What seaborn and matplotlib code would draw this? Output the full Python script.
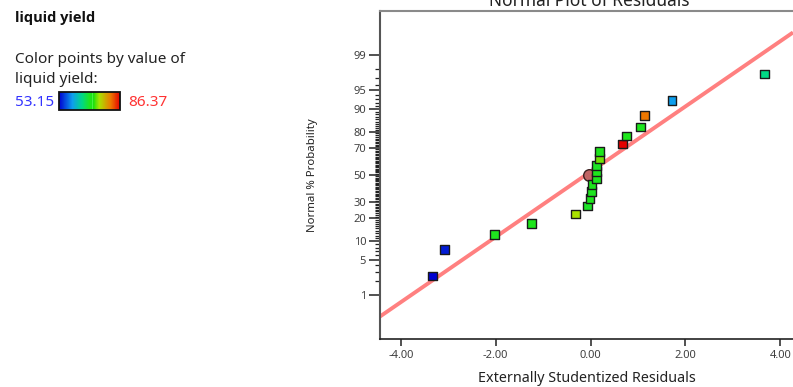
import numpy as np
import matplotlib
matplotlib.use("Agg")
import matplotlib.pyplot as plt
import seaborn as sns
from statistics import NormalDist
from matplotlib.colors import LinearSegmentedColormap, Normalize
from matplotlib.cm import ScalarMappable
from matplotlib.ticker import FixedLocator, FixedFormatter

# ---- data -------------------------------------------------------------
residuals = [-3.33, -3.08, -2.02, -1.25, -0.32, -0.06, -0.01, 0.02, 0.035, 0.12,
             0.12, 0.12, 0.19, 0.19, 0.68, 0.76, 1.05, 1.14, 1.72, 3.67]
normal_prob = [2.5, 7.5, 12.5, 17.5, 22.5, 27.5, 32.5, 37.5, 42.5, 47.5,
               52.5, 57.5, 62.5, 67.5, 72.5, 77.5, 82.5, 87.5, 92.5, 97.5]
liquid_yield = [53.15, 54.5, 69.8, 70.2, 75.1, 69.5, 70.0, 69.7, 70.3, 69.9,
                70.1, 69.6, 73.8, 70.0, 86.37, 70.4, 69.9, 81.4, 60.5, 65.8]

center_resid = [-0.035]
center_prob = [50.0]

yield_min, yield_max = 53.15, 86.37

# reference line in normal-score units: z = intercept + slope * residual
fit_intercept = 0.064
fit_slope = 0.632

prob_major = [1, 5, 10, 20, 30, 50, 70, 80, 90, 95, 99]
prob_minor = [p for p in range(1, 100) if p not in prob_major]
x_ticks = [-4, -2, 0, 2, 4]
x_tick_labels = ["-4.00", "-2.00", "0.00", "2.00", "4.00"]

# ---- normal probability scale -----------------------------------------
_nd = NormalDist()


def p_to_z(p):
    p = np.clip(np.asarray(p, dtype=float), 1e-7, 100 - 1e-7) / 100.0
    if p.size == 0:
        return p
    return np.vectorize(_nd.inv_cdf, otypes=[float])(p)


def z_to_p(z):
    z = np.asarray(z, dtype=float)
    if z.size == 0:
        return z
    return np.vectorize(_nd.cdf, otypes=[float])(z) * 100.0


yield_cmap = LinearSegmentedColormap.from_list(
    "yield",
    [(0.00, (0.00, 0.00, 0.82)),
     (0.22, (0.05, 0.62, 0.93)),
     (0.38, (0.00, 0.85, 0.52)),
     (0.50, (0.12, 0.90, 0.12)),
     (0.545, (0.10, 0.90, 0.08)),
     (0.555, (0.55, 1.00, 0.55)),
     (0.565, (0.10, 0.88, 0.05)),
     (0.66, (0.66, 0.89, 0.00)),
     (0.85, (0.93, 0.47, 0.00)),
     (1.00, (0.90, 0.00, 0.00))])
yield_norm = Normalize(yield_min, yield_max)

# ---- figure -----------------------------------------------------------
sns.set_style("white")
plt.rcParams["font.family"] = ["Noto Sans", "DejaVu Sans"]

W, H = 793, 387
fig = plt.figure(figsize=(W / 100, H / 100), dpi=100)

ax_left, ax_top, ax_bottom = 380, 11, 339
ax = fig.add_axes([ax_left / W, 1 - ax_bottom / H, 1 - ax_left / W, (ax_bottom - ax_top) / H])

ax.set_yscale("function", functions=(p_to_z, z_to_p))
ax.set_xlim(-4.44, 4.27)
ax.set_ylim(0.0741, 99.926)

# reference line (straight on screen under the probability scale)
ax.axline((-3.0, float(z_to_p(fit_intercept + fit_slope * -3.0))),
          (3.0, float(z_to_p(fit_intercept + fit_slope * 3.0))),
          color="#ff8080", lw=2.8, zorder=1, solid_capstyle="butt")

# center point marker
ax.scatter(center_resid, center_prob, s=70, marker="o", color="#c06464",
           edgecolor="#3a2020", linewidth=1.0, zorder=2)

sns.scatterplot(x=residuals, y=normal_prob, hue=liquid_yield, palette=yield_cmap,
                hue_norm=yield_norm, marker="s", s=38, edgecolor="#1a1a1a",
                linewidth=1.0, legend=False, ax=ax, zorder=3)

# ticks
ax.yaxis.set_major_locator(FixedLocator(prob_major))
ax.yaxis.set_major_formatter(FixedFormatter([str(p) for p in prob_major]))
ax.yaxis.set_minor_locator(FixedLocator(prob_minor))
ax.xaxis.set_major_locator(FixedLocator(x_ticks))
ax.xaxis.set_major_formatter(FixedFormatter(x_tick_labels))
ax.xaxis.set_minor_locator(FixedLocator([]))

ax.tick_params(axis="y", which="major", direction="out", length=8, width=1.1,
               color="#222222", labelsize=8, labelcolor="#404040", pad=2, left=True)
ax.tick_params(axis="y", which="minor", direction="out", length=3.5, width=0.9,
               color="#222222", left=True)
ax.tick_params(axis="x", which="major", direction="out", length=5, width=1.1,
               color="#222222", labelsize=8, labelcolor="#404040", pad=3, bottom=True)

for side in ("left", "bottom", "top"):
    ax.spines[side].set_visible(True)
ax.spines["right"].set_visible(False)
ax.spines["left"].set_color("#555555")
ax.spines["left"].set_linewidth(1.5)
ax.spines["top"].set_color("#8a8a8a")
ax.spines["top"].set_linewidth(1.5)
ax.spines["bottom"].set_color("#222222")
ax.spines["bottom"].set_linewidth(1.2)

ax.set_ylabel("Normal % Probability", fontsize=8.2, color="#222222")
ax.yaxis.set_label_coords((318 - ax_left) / (W - ax_left), 0.5)
ax.set_xlabel("Externally Studentized Residuals", fontsize=10.3, color="#222222")
ax.xaxis.set_label_coords(0.5, -(371 - ax_bottom) / (ax_bottom - ax_top))

fig.text(589 / W, 1 - 6 / H, "Normal Plot of Residuals", ha="center", va="baseline",
         fontsize=12.5, color="#222222")

# ---- left-hand legend panel -------------------------------------------
fig.text(15 / W, 1 - 22 / H, "liquid yield", ha="left", va="baseline",
         fontsize=10.5, fontweight="bold", family=["Open Sans", "DejaVu Sans"],
         color="#111111")
fig.text(15 / W, 1 - 63 / H, "Color points by value of", ha="left", va="baseline",
         fontsize=11, color="#222222")
fig.text(15 / W, 1 - 83 / H, "liquid yield:", ha="left", va="baseline",
         fontsize=11, color="#222222")
fig.text(15 / W, 1 - 106 / H, f"{yield_min:.2f}", ha="left", va="baseline",
         fontsize=11, color="#3333ff")
fig.text(128 / W, 1 - 106 / H, f"{yield_max:.2f}", ha="left", va="baseline",
         fontsize=11, color="#ff3333")

cax = fig.add_axes([59 / W, 1 - 110 / H, 61 / W, 18 / H])
cb = fig.colorbar(ScalarMappable(norm=yield_norm, cmap=yield_cmap), cax=cax,
                  orientation="horizontal")
cb.set_ticks([])
cb.outline.set_linewidth(1.3)
cb.outline.set_edgecolor("#111111")

fig.savefig("out.png", dpi=100)
